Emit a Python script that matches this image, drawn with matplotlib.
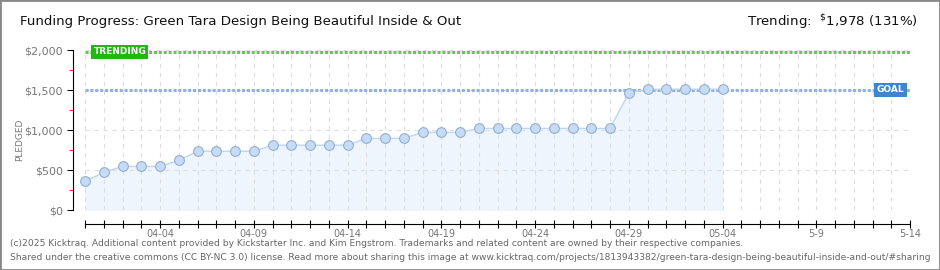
# Gráfico de progresso de financiamento (estilo Kicktraq)
import numpy as np
import matplotlib.pyplot as plt
from matplotlib.patches import Rectangle
from matplotlib.ticker import MultipleLocator, FixedLocator, FuncFormatter

# Dados: valor arrecadado por dia, a partir de 03-31
pledged = [360, 470, 545, 545, 545, 620, 735, 735, 735, 735,
           810, 810, 810, 810, 810, 895, 895, 895, 970, 970,
           970, 1020, 1020, 1020, 1020, 1020, 1020, 1020, 1020, 1460,
           1510, 1510, 1510, 1510, 1510]
goal = 1500
trending = 1978
total_days = 44  # 03-31 .. 05-14

tick_days = [4, 9, 14, 19, 24, 29, 34, 39, 44]
tick_labels = ['04-04', '04-09', '04-14', '04-19', '04-24', '04-29', '05-04', '5-9', '5-14']
y_ticks = [0, 500, 1000, 1500, 2000]
y_labels = ['$0', '$500', '$1,000', '$1,500', '$2,000']

W, H = 940, 270
fig = plt.figure(figsize=(W / 100, H / 100), dpi=100)
ax = fig.add_axes([85 / W, (H - 210) / H, (910 - 85) / W, 160 / H])

dias = np.arange(len(pledged))

# grade
ax.set_xlim(0, total_days)
ax.set_ylim(0, 2000)
ax.xaxis.set_major_locator(FixedLocator(range(total_days + 1)))
rotulos = dict(zip(tick_days, tick_labels))
ax.xaxis.set_major_formatter(FuncFormatter(lambda v, p: rotulos.get(int(round(v)), '')))
ax.set_yticks(y_ticks)
ax.set_yticklabels(y_labels)
ax.yaxis.set_minor_locator(MultipleLocator(250))
ax.grid(True, which='major', color='#dedede', linestyle=(0, (4, 4)), linewidth=0.8)
ax.set_axisbelow(True)

# área e linha (área abaixo da grade, como no original)
ax.fill_between(dias, pledged, color='#eef5fd', zorder=0.3)
ax.axhline(goal, color='#8fb3dc', lw=2.2, dashes=(1, 0.6), zorder=2)
ax.axhline(trending, color='#5fcc50', lw=2.2, dashes=(1, 0.6), zorder=2)
ax.plot(dias, pledged, color='#bcd7f3', lw=1, marker='o', ms=7,
        mfc='#c6dcf6', mec='#93afd0', mew=0.8, zorder=3, clip_on=False)

# rótulos das linhas
ax.text(0.45, trending, 'TRENDING', color='white', fontsize=6.5, fontweight='bold',
        ha='left', va='center', zorder=5,
        bbox=dict(boxstyle='square,pad=0.25', fc='#22b711', ec='none'))
ax.text(43.7, goal, 'GOAL', color='white', fontsize=6.5, fontweight='bold',
        ha='right', va='center', zorder=5,
        bbox=dict(boxstyle='square,pad=0.25', fc='#3d86d2', ec='none'))

# eixos
for s in ['top', 'right']:
    ax.spines[s].set_visible(False)
ax.spines['left'].set_position(('outward', 9))
ax.spines['bottom'].set_position(('outward', 10))
ax.tick_params(axis='y', which='major', length=4, color='black', labelsize=8,
               labelcolor='#777777', pad=3)
ax.tick_params(axis='y', which='minor', length=3, color='red')
ax.tick_params(axis='x', which='major', length=6, direction='inout', color='black',
               labelsize=7, labelcolor='#777777', pad=1)

# textos
fig.text(20 / W, 1 - 22 / H, 'Funding Progress: Green Tara Design Being Beautiful Inside & Out',
         fontsize=9.6, color='#111111', va='center', ha='left')
fig.text(918 / W, 1 - 22 / H, r'Trending:  $^{\$}$1,978 (131%)',
         fontsize=9.6, color='#111111', va='center', ha='right')
fig.text(20 / W, 130 / H, 'PLEDGED', rotation=90, fontsize=6.5, color='#777777',
         va='center', ha='center')
fig.text(10 / W, 1 - 244 / H,
         '(c)2025 Kicktraq. Additional content provided by Kickstarter Inc. and Kim Engstrom. '
         'Trademarks and related content are owned by their respective companies.',
         fontsize=6.6, color='#666666', va='center')
fig.text(10 / W, 1 - 257 / H,
         'Shared under the creative commons (CC BY-NC 3.0) license. Read more about sharing this image at '
         'www.kicktraq.com/projects/1813943382/green-tara-design-being-beautiful-inside-and-out/#sharing',
         fontsize=6.6, color='#666666', va='center')

fig.patches.append(Rectangle((0, 0), 1, 1, transform=fig.transFigure, fill=False,
                             ec='#888888', lw=2))

fig.savefig('out.png', dpi=100)
